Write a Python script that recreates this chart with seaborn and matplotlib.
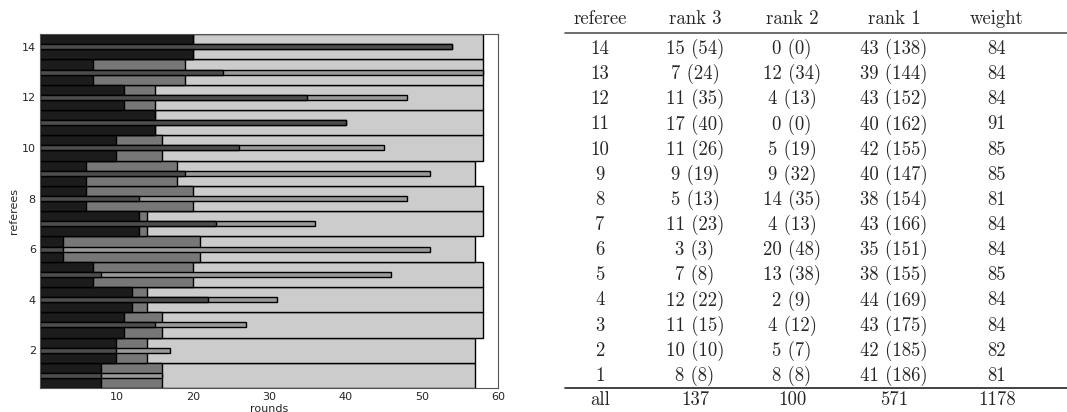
import numpy as np
import pandas as pd
import matplotlib
matplotlib.use('Agg')
from matplotlib import pyplot as plt
import seaborn as sns

# referees 1..14 (bottom to top)
referees = list(range(1, 15))
# rounds spent in each rank (thick bars)
rank3_rounds = [8, 10, 11, 12, 7, 3, 13, 6, 6, 10, 15, 11, 7, 20]
rank2_rounds = [8, 4, 5, 2, 13, 18, 1, 14, 12, 6, 0, 4, 12, 0]
rank1_rounds = [41, 43, 42, 44, 38, 36, 44, 38, 39, 42, 43, 43, 39, 38]
# values in brackets (thin bars)
rank3_pts = [8, 10, 15, 22, 8, 3, 23, 13, 19, 26, 40, 35, 24, 54]
rank2_pts = [8, 7, 12, 9, 38, 48, 13, 35, 32, 19, 0, 13, 34, 0]
# table counts
rank3_cnt = [8, 10, 11, 12, 7, 3, 11, 5, 9, 11, 17, 11, 7, 15]
rank2_cnt = [8, 5, 4, 2, 13, 20, 4, 14, 9, 5, 0, 4, 12, 0]
rank1_cnt = [41, 42, 43, 44, 38, 35, 43, 38, 40, 42, 40, 43, 39, 43]
rank1_pts = [186, 185, 175, 169, 155, 151, 166, 154, 147, 155, 162, 152, 144, 138]
weights = [81, 82, 84, 84, 85, 84, 84, 81, 85, 85, 91, 84, 84, 84]
totals = [137, 100, 571, 1178]
headers = ['referee', 'rank 3', 'rank 2', 'rank 1', 'weight']

df = pd.DataFrame({'ref': referees, 'r3': rank3_rounds, 'r2': rank2_rounds, 'r1': rank1_rounds,
                   'p3': rank3_pts, 'p2': rank2_pts})
df['end2'] = df.r3 + df.r2
df['end1'] = df.end2 + df.r1
df['pend'] = df.p3 + df.p2

sns.set_style('white')
plt.rcParams['font.family'] = ['DejaVu Sans']

fig = plt.figure(figsize=(10.67, 4.12), dpi=100)
ax = fig.add_axes([0.0375, 0.058, 0.4295, 0.859])

kw = dict(orient='h', native_scale=True, errorbar=None, saturation=1, edgecolor='black', linewidth=1, ax=ax)
sns.barplot(data=df, x='end1', y='ref', color='#cccccc', width=1.0, **kw)
sns.barplot(data=df, x='end2', y='ref', color='#777777', width=1.0, **kw)
sns.barplot(data=df, x='r3', y='ref', color='#1c1c1c', width=1.0, **kw)
sns.barplot(data=df, x='pend', y='ref', color='#9a9a9a', width=0.2, **kw)
sns.barplot(data=df, x='p3', y='ref', color='#4d4d4d', width=0.2, **kw)

ax.set_xlim(0, 60)
ax.set_ylim(0.5, 14.5)
ax.set_xticks(range(10, 61, 10))
ax.set_yticks(range(2, 15, 2))
ax.tick_params(direction='in', top=True, right=False, labelsize=8, length=3, pad=3)
ax.set_xlabel('rounds', fontsize=8, labelpad=1)
ax.set_ylabel('referees', fontsize=8, labelpad=2)
for s in ax.spines.values():
    s.set_color('#555555')
    s.set_linewidth(0.8)

# table
tb = fig.add_axes([0, 0, 1, 1])
tb.set_xlim(0, 1067)
tb.set_ylim(412, 0)
tb.axis('off')
cols = [600, 695, 792, 894, 997]
tfont = dict(family='cmr10', fontsize=13.5, ha='center', va='center')
for c, h in zip(cols, headers):
    tb.text(c, 19, h, **tfont)
for i, r in enumerate(referees[::-1]):
    y = 49 + 25.15 * i
    j = r - 1
    vals = [str(r), f'{rank3_cnt[j]} ({rank3_pts[j]})', f'{rank2_cnt[j]} ({rank2_pts[j]})',
            f'{rank1_cnt[j]} ({rank1_pts[j]})', str(weights[j])]
    for c, v in zip(cols, vals):
        tb.text(c, y, v, **tfont)
for c, v in zip(cols, ['all'] + [str(t) for t in totals]):
    tb.text(c, 400, v, **tfont)
tb.plot([565, 1067], [33, 33], color='#555555', lw=1.2)
tb.plot([565, 1067], [388, 388], color='#222222', lw=1.2)

plt.savefig('out.png', dpi=100)
